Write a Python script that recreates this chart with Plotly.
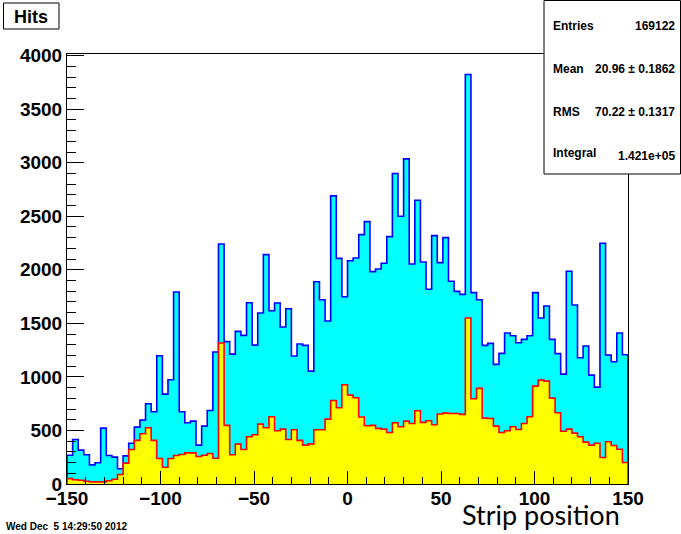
import numpy as np
import plotly.graph_objects as go

# ---- data ----
bin_low, bin_high, bin_width = -150, 150, 3
all_hits = [269, 416, 316, 273, 179, 198, 522, 266, 251, 142,
            263, 381, 531, 596, 750, 675, 1198, 839, 974, 1793,
            675, 572, 587, 363, 540, 686, 1232, 2241, 1329, 1213,
            1425, 1388, 1693, 1297, 1597, 2142, 1618, 1690, 1466, 1637,
            1195, 1307, 1294, 1054, 1889, 1721, 1522, 2690, 2107, 1749,
            2085, 2111, 2329, 2450, 1983, 2008, 2061, 2310, 2899, 2500,
            3036, 2054, 2650, 2073, 1818, 2319, 2067, 2301, 1893, 1799,
            1771, 3824, 1787, 1721, 1294, 1313, 1117, 1220, 1410, 1385,
            1319, 1350, 1385, 1787, 1550, 1662, 1350, 1217, 1026, 1986,
            1671, 1179, 1288, 1017, 905, 2248, 1203, 1142, 1410, 1207]
sel_hits = [50, 40, 35, 25, 20, 20, 20, 30, 45, 89,
            195, 322, 407, 469, 525, 407, 238, 157, 238, 266,
            276, 291, 291, 257, 269, 285, 241, 1316, 547, 273,
            372, 322, 441, 460, 559, 525, 628, 497, 512, 416,
            506, 407, 363, 375, 506, 506, 606, 780, 712, 927,
            830, 805, 625, 544, 547, 519, 512, 481, 572, 534,
            587, 565, 684, 575, 590, 553, 653, 662, 659, 659,
            650, 1550, 796, 893, 615, 612, 540, 481, 497, 534,
            509, 565, 628, 914, 970, 961, 802, 665, 493, 512,
            475, 441, 391, 363, 381, 248, 394, 360, 325, 201]
x_ticks = [-150, -100, -50, 0, 50, 100, 150]
y_ticks = [0, 500, 1000, 1500, 2000, 2500, 3000, 3500, 4000]
stats_labels = ["Entries", "Mean", "RMS", "Integral"]
stats_values = ["169122", "20.96 \u00b1 0.1862", "70.22 \u00b1 0.1317", "1.421e+05"]
title_text = "Hits"
xlabel_text = "Strip position"
date_text = "Wed Dec\u00a0\u00a05 14:29:50 2012"

edges = np.arange(bin_low, bin_high + bin_width, bin_width)


def step(vals):
    xs = [edges[0]] + list(edges[:-1]) + [edges[-1], edges[-1]]
    ys = [0] + list(vals) + [vals[-1], 0]
    return xs, ys


W, H = 681, 534
L, R, T, B = 67, 53, 54, 50
pw, ph = W - L - R, H - T - B


def px(xp):
    return (xp - L) / pw


def py(yp):
    return (H - B - yp) / ph


fig = go.Figure()
for vals, fillc, linec in [(all_hits, "#00FFFF", "#0000FF"), (sel_hits, "#FFFF00", "#FF0000")]:
    xs, ys = step(vals)
    fig.add_trace(go.Scatter(x=xs, y=ys, mode="lines", line=dict(shape="hv", color=linec, width=1.6),
                             fill="tozeroy", fillcolor=fillc, hoverinfo="skip", showlegend=False))

tickfont = dict(family="Liberation Sans, Arial, sans-serif", size=19, color="black", weight="bold")
ymax = max(all_hits) * 1.05
fig.update_layout(
    width=W, height=H,
    margin=dict(l=L, r=R, t=T, b=B, pad=0),
    paper_bgcolor="white", plot_bgcolor="white",
    xaxis=dict(range=[bin_low, bin_high], tickvals=x_ticks, ticks="inside", ticklen=13, tickwidth=1,
               tickcolor="black", showline=True, linecolor="black", linewidth=1, mirror=True,
               showgrid=False, zeroline=False, tickfont=tickfont, ticklabelstandoff=-3,
               minor=dict(dtick=10, ticks="inside", ticklen=7, tickcolor="black", showgrid=False)),
    yaxis=dict(range=[0, ymax], tickvals=y_ticks, ticks="inside", ticklen=17, tickwidth=1,
               tickcolor="black", showline=True, linecolor="black", linewidth=1, mirror=True,
               showgrid=False, zeroline=False, tickfont=tickfont,
               minor=dict(dtick=100, ticks="inside", ticklen=9, tickcolor="black", showgrid=False)),
)

shapes = []
annos = []
# stats box
shapes.append(dict(type="rect", xref="paper", yref="paper", x0=px(544), x1=px(680.5), y0=py(174), y1=py(0.5),
                   line=dict(color="black", width=1), fillcolor="white", layer="above"))
stat_font = dict(family="Liberation Sans, Arial, sans-serif", size=12, color="black", weight="bold")
rows_y = [25.7, 69, 112, 153]
vals_y = [25.7, 69, 112, 155.5]
for lab, val, ly, vy in zip(stats_labels, stats_values, rows_y, vals_y):
    annos.append(dict(text=lab, xref="paper", yref="paper", x=px(551), y=py(ly), xanchor="left",
                      yanchor="middle", showarrow=False, font=stat_font))
    annos.append(dict(text=val, xref="paper", yref="paper", x=px(677), y=py(vy), xanchor="right",
                      yanchor="middle", showarrow=False, font=stat_font))
# title box
shapes.append(dict(type="rect", xref="paper", yref="paper", x0=px(3.5), x1=px(59), y0=py(29), y1=py(3),
                   line=dict(color="black", width=1), fillcolor="white", layer="above"))
annos.append(dict(text=title_text, xref="paper", yref="paper", x=px(31), y=py(16.5), xanchor="center",
                  yanchor="middle", showarrow=False,
                  font=dict(family="Liberation Sans, Arial, sans-serif", size=18, color="black", weight="bold")))
# x label
annos.append(dict(text=xlabel_text, xref="paper", yref="paper", x=px(540.5), y=py(514), xanchor="center",
                  yanchor="middle", showarrow=False,
                  font=dict(family="Lato, sans-serif", size=27, color="black")))
# date
annos.append(dict(text=date_text, xref="paper", yref="paper", x=px(4), y=py(526.5), xanchor="left",
                  yanchor="middle", showarrow=False,
                  font=dict(family="Liberation Sans, Arial, sans-serif", size=10, color="black", weight="bold")))
fig.update_layout(shapes=shapes, annotations=annos)

fig.write_html("out.html", config={"displayModeBar": False},
               post_script="document.body.style.margin='0px';document.body.style.padding='0px';")
